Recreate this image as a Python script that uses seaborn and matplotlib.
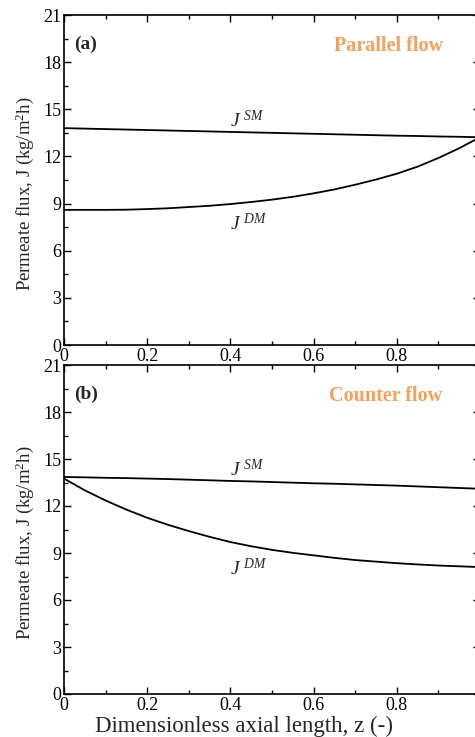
import numpy as np
import pandas as pd
import matplotlib
matplotlib.use("Agg")
import matplotlib.pyplot as plt
import seaborn as sns
from matplotlib.ticker import MultipleLocator, FixedLocator

# ---- data ----
z = [0.00, 0.05, 0.10, 0.15, 0.20, 0.25, 0.30, 0.35, 0.40, 0.45, 0.50,
     0.55, 0.60, 0.65, 0.70, 0.75, 0.80, 0.85, 0.90, 0.95, 1.00]
par_sm = [13.80, 13.77, 13.74, 13.71, 13.68, 13.65, 13.62, 13.59, 13.56, 13.53, 13.50,
          13.47, 13.44, 13.41, 13.38, 13.35, 13.32, 13.30, 13.27, 13.25, 13.22]
par_dm = [8.60, 8.60, 8.60, 8.61, 8.65, 8.70, 8.78, 8.86, 8.97, 9.10, 9.25,
          9.43, 9.65, 9.90, 10.20, 10.53, 10.90, 11.35, 11.90, 12.52, 13.22]
cnt_sm = [13.85, 13.83, 13.80, 13.78, 13.75, 13.72, 13.68, 13.64, 13.60, 13.57, 13.53,
          13.49, 13.45, 13.42, 13.38, 13.34, 13.30, 13.25, 13.20, 13.15, 13.10]
cnt_dm = [13.75, 13.00, 12.35, 11.77, 11.25, 10.80, 10.40, 10.03, 9.70, 9.43, 9.20,
          9.01, 8.85, 8.69, 8.55, 8.45, 8.35, 8.27, 8.20, 8.15, 8.10]
panel_tags = ["(a)", "(b)"]
panel_titles = ["Parallel flow", "Counter flow"]
xtick_vals = [0, 0.2, 0.4, 0.6, 0.8]
xtick_labels = ["0", "0.2", "0.4", "0.6", "0.8"]
ytick_vals = [0, 3, 6, 9, 12, 15, 18, 21]

sns.set_style("white")
plt.rcParams["font.family"] = ["Liberation Serif", "DejaVu Serif"]
plt.rcParams["mathtext.fontset"] = "custom"
plt.rcParams["mathtext.rm"] = "Liberation Serif"
plt.rcParams["mathtext.it"] = "Liberation Serif:italic"
plt.rcParams["mathtext.bf"] = "Liberation Serif:bold"

fig = plt.figure(figsize=(4.75, 7.37), dpi=100)
L, R = 64 / 475, 480 / 475
ax_a = fig.add_axes([L, 1 - 345 / 737, R - L, (345 - 15) / 737])
ax_b = fig.add_axes([L, 1 - 694 / 737, R - L, (694 - 365) / 737])

datasets = [(par_sm, par_dm), (cnt_sm, cnt_dm)]
label_pos = [((0.40, 14.3), (0.40, 7.75)), ((0.40, 14.3), (0.40, 8.0))]

for i, ax in enumerate([ax_a, ax_b]):
    sm, dm = datasets[i]
    df = pd.DataFrame({"z": z * 2, "J": sm + dm,
                       "model": ["SM"] * len(z) + ["DM"] * len(z)})
    sns.lineplot(data=df, x="z", y="J", units="model", estimator=None,
                 color="black", lw=1.3, ax=ax, legend=False)
    ax.set_xlim(0, 1)
    ax.set_ylim(0, 21)
    ax.xaxis.set_major_locator(FixedLocator(xtick_vals))
    ax.set_xticklabels(xtick_labels)
    ax.xaxis.set_minor_locator(MultipleLocator(0.1))
    ax.yaxis.set_major_locator(FixedLocator(ytick_vals))
    ax.yaxis.set_minor_locator(MultipleLocator(1.5))
    ax.tick_params(which="both", direction="in", top=True, right=True,
                   bottom=True, left=True, labelsize=13, pad=2, colors="black")
    ax.tick_params(which="major", length=5, width=1.0)
    ax.tick_params(which="minor", length=3, width=1.0)
    for s in ax.spines.values():
        s.set_linewidth(1.2)
        s.set_color("black")
    ax.set_ylabel(r"Permeate flux, J (kg/m$^2$h)", fontsize=13.5)
    ax.yaxis.set_label_coords(-0.068, 0.46)
    ax.set_xlabel("")
    ax.text(0.025, 0.91, panel_tags[i], transform=ax.transAxes,
            fontsize=14, fontweight="bold", ha="left", va="center")
    ax.text(0.91, 0.905, panel_titles[i], transform=ax.transAxes,
            fontsize=14.5, fontweight="bold", color="#F5A15E", ha="right", va="center")
    (sx, sy), (dx, dy) = label_pos[i]
    ax.text(sx, sy, r"$J^{\ SM}$", fontsize=14, ha="left", va="center")
    ax.text(dx, dy, r"$J^{\ DM}$", fontsize=14, ha="left", va="center")

ax_b.set_xlabel("Dimensionless axial length, z (-)", fontsize=16.5)
ax_b.xaxis.set_label_coords(0.433, -0.067)

fig.savefig("out.png", dpi=100)
